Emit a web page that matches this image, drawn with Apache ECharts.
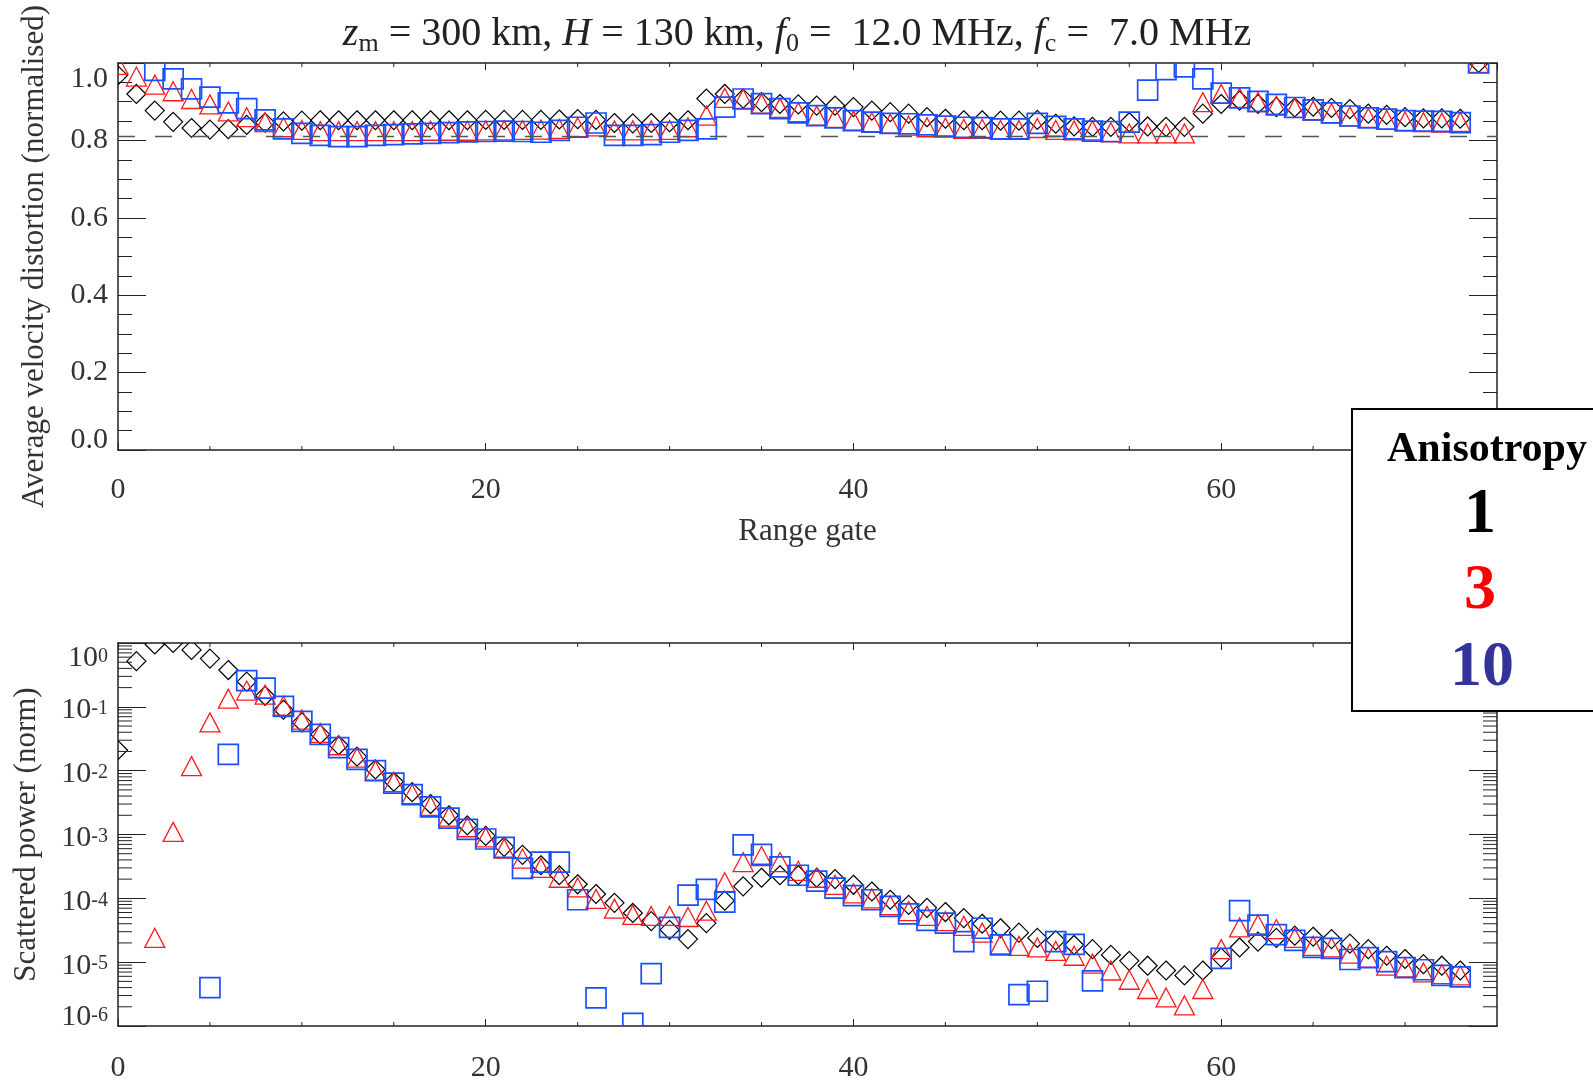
<!DOCTYPE html>
<html>
<head>
<meta charset="utf-8">
<script src="https://cdn.jsdelivr.net/npm/echarts@6/dist/echarts.min.js"></script>
<style>
html, body { margin: 0; padding: 0; background: #fff; }
#main { width: 1593px; height: 1083px; }
</style>
</head>
<body>
<div id="main"></div>
<script>
var myChart = echarts.init(document.getElementById('main'));

// range gates
var gates = [0, 1, 2, 3, 4, 5, 6, 7, 8, 9, 10, 11, 12, 13, 14, 15, 16, 17, 18, 19,
  20, 21, 22, 23, 24, 25, 26, 27, 28, 29, 30, 31, 32, 33, 34, 35, 36, 37, 38, 39,
  40, 41, 42, 43, 44, 45, 46, 47, 48, 49, 50, 51, 52, 53, 54, 55, 56, 57, 58, 59,
  60, 61, 62, 63, 64, 65, 66, 67, 68, 69, 70, 71, 72, 73, 74];

// average velocity distortion (normalised), anisotropy 1 / 3 / 10
var velAniso1 = [0.968, 0.920, 0.877, 0.848, 0.832, 0.828, 0.829, 0.840, 0.846, 0.849,
  0.851, 0.852, 0.852, 0.852, 0.852, 0.852, 0.852, 0.852, 0.852, 0.852,
  0.853, 0.853, 0.853, 0.853, 0.854, 0.855, 0.853, 0.845, 0.844, 0.845,
  0.847, 0.852, 0.908, 0.920, 0.908, 0.899, 0.894, 0.893, 0.890, 0.890,
  0.886, 0.877, 0.873, 0.869, 0.860, 0.856, 0.852, 0.852, 0.851, 0.851,
  0.853, 0.843, 0.836, 0.835, 0.835, 0.847, 0.836, 0.835, 0.835, 0.869,
  0.894, 0.903, 0.894, 0.886, 0.885, 0.887, 0.884, 0.881, 0.869, 0.866,
  0.860, 0.857, 0.857, 0.856, 1.0];
var velAniso3 = [0.995, 0.965, 0.944, 0.927, 0.907, 0.893, 0.875, 0.860, 0.847, 0.834,
  0.827, 0.824, 0.824, 0.824, 0.824, 0.824, 0.824, 0.825, 0.825, 0.825,
  0.826, 0.826, 0.827, 0.828, 0.830, 0.834, 0.836, 0.826, 0.826, 0.826,
  0.827, 0.834, 0.864, 0.910, 0.907, 0.895, 0.884, 0.873, 0.864, 0.858,
  0.851, 0.847, 0.843, 0.838, 0.834, 0.833, 0.830, 0.830, 0.827, 0.827,
  0.832, 0.827, 0.826, 0.826, 0.821, 0.818, 0.818, 0.818, 0.818, 0.899,
  0.920, 0.910, 0.899, 0.890, 0.884, 0.877, 0.870, 0.862, 0.858, 0.853,
  0.849, 0.847, 0.846, 0.848, 1.0];
var velAniso10 = [null, null, 0.981, 0.959, 0.933, 0.912, 0.897, 0.882, 0.853, 0.830,
  0.818, 0.813, 0.810, 0.810, 0.813, 0.815, 0.817, 0.818, 0.820, 0.822,
  0.823, 0.824, 0.823, 0.821, 0.826, 0.834, 0.845, 0.813, 0.813, 0.815,
  0.821, 0.826, 0.830, 0.886, 0.907, 0.895, 0.882, 0.871, 0.864, 0.858,
  0.851, 0.847, 0.844, 0.843, 0.840, 0.837, 0.834, 0.833, 0.830, 0.830,
  0.844, 0.836, 0.830, 0.824, 0.823, 0.847, 0.930, 0.983, 0.990, 0.959,
  0.922, 0.910, 0.901, 0.893, 0.885, 0.879, 0.871, 0.863, 0.858, 0.855,
  0.851, 0.850, 0.849, 0.846, 1.0];
var velRefLine = 0.81;

// scattered power (norm), gates 0..73
var powAniso1 = [0.021, 0.52, 0.95, 1.0, 0.78, 0.57, 0.377, 0.248, 0.149, 0.090,
  0.057, 0.037, 0.025, 0.0166, 0.0105, 0.0067, 0.0046, 0.0030, 0.0020, 0.00139,
  0.00095, 0.00064, 0.00048, 0.00033, 0.00023, 0.000166, 0.000117, 8.5e-5, 5.9e-5, 4.4e-5,
  3.2e-5, 2.3e-5, 4.1e-5, 9.2e-5, 1.54e-4, 2.1e-4, 2.3e-4, 2.3e-4, 2.1e-4, 2.0e-4,
  1.63e-4, 1.28e-4, 9.5e-5, 7.9e-5, 7.1e-5, 6.1e-5, 4.9e-5, 4.0e-5, 3.4e-5, 2.9e-5,
  2.4e-5, 2.2e-5, 1.86e-5, 1.6e-5, 1.3e-5, 1.05e-5, 8.8e-6, 7.4e-6, 6.2e-6, 7.4e-6,
  1.18e-5, 1.7e-5, 2.1e-5, 2.4e-5, 2.6e-5, 2.5e-5, 2.3e-5, 1.95e-5, 1.6e-5, 1.26e-5,
  1.12e-5, 9.3e-6, 8.8e-6, 7.4e-6];
var powAniso3 = [null, null, 2.4e-5, 1.1e-3, 0.0118, 0.057, 0.134, 0.18, 0.155, 0.104,
  0.063, 0.039, 0.025, 0.016, 0.010, 0.0066, 0.0043, 0.0028, 0.0019, 0.0013,
  9.0e-4, 6.0e-4, 4.2e-4, 3.0e-4, 2.1e-4, 1.48e-4, 9.8e-5, 6.9e-5, 5.5e-5, 5.3e-5,
  5.3e-5, 5.1e-5, 6.4e-5, 1.79e-4, 3.7e-4, 4.6e-4, 3.7e-4, 2.7e-4, 2.1e-4, 1.63e-4,
  1.2e-4, 1.0e-4, 7.8e-5, 6.3e-5, 5.3e-5, 4.4e-5, 3.7e-5, 2.9e-5, 1.9e-5, 1.8e-5,
  1.7e-5, 1.5e-5, 1.26e-5, 9.5e-6, 7.4e-6, 5.3e-6, 3.8e-6, 2.8e-6, 2.1e-6, 3.8e-6,
  1.6e-5, 3.5e-5, 3.9e-5, 3.3e-5, 2.4e-5, 1.8e-5, 1.7e-5, 1.36e-5, 1.18e-5, 8.8e-6,
  8.3e-6, 6.9e-6, 6.5e-6, 6.2e-6];
var powAniso10 = [null, null, null, null, null, 4.0e-6, 0.018, 0.257, 0.196, 0.102,
  0.059, 0.037, 0.023, 0.015, 0.010, 0.0064, 0.0042, 0.0027, 0.0018, 0.0012,
  8.5e-4, 6.3e-4, 2.95e-4, 3.7e-4, 3.7e-4, 9.5e-5, 2.75e-6, null, 1.1e-6, 6.6e-6,
  3.5e-5, 1.12e-4, 1.38e-4, 8.7e-5, 6.9e-4, 4.9e-4, 3.1e-4, 2.3e-4, 1.86e-4, 1.45e-4,
  1.1e-4, 9.5e-5, 7.5e-5, 5.7e-5, 4.5e-5, 4.1e-5, 2.1e-5, 3.4e-5, 1.86e-5, 3.1e-6,
  3.5e-6, 2.1e-5, 1.9e-5, 5.1e-6, null, null, null, null, null, null,
  1.15e-5, 6.4e-5, 3.8e-5, 2.7e-5, 2.2e-5, 1.7e-5, 1.65e-5, 1.1e-5, 1.18e-5, 1.02e-5,
  8.2e-6, 7.6e-6, 6.2e-6, 5.9e-6];

var legendTitle = 'Anisotropy';
var legendLabels = ['1', '3', '10'];

var FONT = 'Liberation Serif';
var INK = '#222';
var TXT = '#333';
var COL_A1 = '#000000';
var COL_A3 = '#ff1a1a';
var COL_A10 = '#1a4fff';

// x minor ticks every 5 gates (majors every 20 come from the axis)
var xMinorTicks = [];
for (var t = 5; t < 75; t += 5) {
  if (t % 20 !== 0) xMinorTicks.push(t);
}
// log minor ticks 2..9 x 10^n
var logMinorTicks = [];
for (var e = -6; e < 0; e++) {
  for (var k = 2; k <= 9; k++) logMinorTicks.push(k * Math.pow(10, e));
}

function pairs(vals) {
  return vals.map(function (v, i) { return [gates[i], v == null ? '-' : v]; });
}

// marker outline shapes, clipped to the plot frame like the original
function markerShape(kind, x, y, color, width) {
  var style = { fill: 'none', stroke: color, lineWidth: width };
  if (kind === 'diamond') {
    return { type: 'polygon', shape: { points: [[x, y - 9.5], [x + 9.5, y], [x, y + 9.5], [x - 9.5, y]] }, style: style };
  }
  if (kind === 'triangle') {
    return { type: 'polygon', shape: { points: [[x, y - 9.5], [x + 10, y + 9.5], [x - 10, y + 9.5]] }, style: style };
  }
  return { type: 'rect', shape: { x: x - 10, y: y - 10, width: 20, height: 20 }, style: style };
}

function markerSeries(name, vals, kind, color, width, xi, yi) {
  return {
    name: name,
    type: 'custom',
    xAxisIndex: xi,
    yAxisIndex: yi,
    clip: true,
    silent: true,
    data: pairs(vals),
    renderItem: function (params, api) {
      var v = api.value(1);
      if (isNaN(v)) return null;
      var p = api.coord([api.value(0), v]);
      return markerShape(kind, p[0], p[1], color, width);
    }
  };
}

function xTickSeries(xi, yi, yLo, yHi) {
  return {
    type: 'custom',
    xAxisIndex: xi,
    yAxisIndex: yi,
    silent: true,
    clip: false,
    z: 5,
    data: xMinorTicks.map(function (x) { return [x, yLo]; }),
    renderItem: function (params, api) {
      var x = api.value(0);
      var b = api.coord([x, yLo]);
      var tp = api.coord([x, yHi]);
      return {
        type: 'group',
        children: [
          { type: 'line', shape: { x1: b[0], y1: b[1], x2: b[0], y2: b[1] - 4 }, style: { stroke: INK, lineWidth: 1 } },
          { type: 'line', shape: { x1: tp[0], y1: tp[1], x2: tp[0], y2: tp[1] + 4 }, style: { stroke: INK, lineWidth: 1 } }
        ]
      };
    }
  };
}

var tickFont = { fontFamily: FONT, fontSize: 30, color: TXT };

function xAxisPair(grid, name, margin) {
  var common = {
    gridIndex: grid, type: 'value', min: 0, max: 75, interval: 20,
    splitLine: { show: false },
    axisLine: { show: true, onZero: false, lineStyle: { color: INK, width: 1.5 } },
    axisTick: { show: true, inside: true, length: 7, lineStyle: { color: INK, width: 1 } }
  };
  var bottom = Object.assign({}, common, {
    position: 'bottom',
    axisLabel: Object.assign({ show: true, margin: margin, showMaxLabel: false }, tickFont)
  });
  if (name) {
    bottom.name = name;
    bottom.nameLocation = 'middle';
    bottom.nameGap = 66;
    bottom.nameTextStyle = { fontFamily: FONT, fontSize: 31, color: TXT };
  }
  var top = Object.assign({}, common, { position: 'top', axisLabel: { show: false } });
  return [bottom, top];
}

var velLabel = Object.assign({
  margin: 10,
  padding: [6, 0, 0, 0],
  lineHeight: 20,
  verticalAlignMinLabel: 'bottom',
  verticalAlignMaxLabel: 'top',
  formatter: function (v) { return v.toFixed(1); }
}, tickFont);

var powLabel = {
  margin: 10,
  padding: [4, 0, 0, 0],
  verticalAlignMinLabel: 'bottom',
  verticalAlignMaxLabel: 'top',
  formatter: function (v) {
    var ex = Math.round(Math.log10(v));
    return '{b|10}{s|' + ex + '}';
  },
  rich: {
    b: { fontFamily: FONT, fontSize: 30, color: TXT, lineHeight: 20, padding: [3, 0, 0, 0] },
    s: { fontFamily: FONT, fontSize: 20, color: TXT, lineHeight: 6, verticalAlign: 'top' }
  }
};

var yCommon = {
  splitLine: { show: false },
  axisLine: { show: true, onZero: false, lineStyle: { color: INK, width: 1.5 } },
  axisTick: { show: true, inside: true, length: 28, lineStyle: { color: INK, width: 1 } }
};

var option = {
  backgroundColor: '#ffffff',
  animation: false,
  grid: [
    { left: 118, top: 63, width: 1379, height: 387 },
    { left: 118, top: 643, width: 1379, height: 386 }
  ],
  xAxis: xAxisPair(0, 'Range gate', 25).concat(xAxisPair(1, null, 27)),
  yAxis: [
    Object.assign({}, yCommon, {
      gridIndex: 0, type: 'value', position: 'left', min: 0, max: 1, interval: 0.2,
      minorTick: { show: true, splitNumber: 4, length: 14, lineStyle: { color: INK, width: 1 } },
      axisLabel: velLabel,
      name: 'Average velocity distortion (normalised)', nameLocation: 'middle', nameGap: 68,
      nameTextStyle: { fontFamily: FONT, fontSize: 31, color: TXT }
    }),
    Object.assign({}, yCommon, {
      gridIndex: 0, type: 'value', position: 'right', min: 0, max: 1, interval: 0.2,
      minorTick: { show: true, splitNumber: 4, length: 14, lineStyle: { color: INK, width: 1 } },
      axisLabel: { show: false }
    }),
    Object.assign({}, yCommon, {
      gridIndex: 1, type: 'log', logBase: 10, position: 'left', min: 1e-6, max: 1, splitNumber: 6,
      axisLabel: powLabel,
      name: 'Scattered power (norm)', nameLocation: 'middle', nameGap: 76,
      nameTextStyle: { fontFamily: FONT, fontSize: 31, color: TXT }
    }),
    Object.assign({}, yCommon, {
      gridIndex: 1, type: 'log', logBase: 10, position: 'right', min: 1e-6, max: 1, splitNumber: 6,
      axisLabel: { show: false }
    })
  ],
  graphic: [
    {
      type: 'text', x: 797, y: 34, z: 50,
      style: {
        text: '{i|z}{sub|m}{n| = 300 km, }{i|H}{n| = 130 km, }{i|f}{sub|0}{n| =  12.0 MHz, }{i|f}{sub|c}{n| =  7.0 MHz}',
        align: 'center', verticalAlign: 'middle',
        rich: {
          n: { fontFamily: FONT, fontSize: 40, fill: '#222', lineHeight: 46 },
          i: { fontFamily: FONT, fontSize: 40, fontStyle: 'italic', fill: '#222', lineHeight: 46 },
          sub: { fontFamily: FONT, fontSize: 26, fill: '#222', lineHeight: 24, verticalAlign: 'bottom' }
        }
      }
    },
    {
      type: 'rect', z: 100,
      shape: { x: 1352, y: 409, width: 300, height: 302 },
      style: { fill: '#ffffff', stroke: '#000000', lineWidth: 2 }
    },
    {
      type: 'text', x: 1487, y: 450, z: 101,
      style: { text: legendTitle, fontFamily: FONT, fontWeight: 'bold', fontSize: 42, fill: '#000', align: 'center', verticalAlign: 'middle' }
    },
    {
      type: 'text', x: 1480, y: 515, z: 101,
      style: { text: legendLabels[0], fontFamily: FONT, fontWeight: 'bold', fontSize: 64, fill: COL_A1, align: 'center', verticalAlign: 'middle' }
    },
    {
      type: 'text', x: 1480, y: 591, z: 101,
      style: { text: legendLabels[1], fontFamily: FONT, fontWeight: 'bold', fontSize: 64, fill: '#ff0000', align: 'center', verticalAlign: 'middle' }
    },
    {
      type: 'text', x: 1482, y: 668, z: 101,
      style: { text: legendLabels[2], fontFamily: FONT, fontWeight: 'bold', fontSize: 64, fill: '#333399', align: 'center', verticalAlign: 'middle' }
    }
  ],
  series: [
    {
      name: 'reference',
      type: 'line',
      xAxisIndex: 0,
      yAxisIndex: 0,
      silent: true,
      symbol: 'none',
      data: [[0, velRefLine], [75, velRefLine]],
      lineStyle: { color: '#555', width: 1.5, type: [17, 20] }
    },
    markerSeries('A1 vel', velAniso1, 'diamond', COL_A1, 1.2, 0, 0),
    markerSeries('A3 vel', velAniso3, 'triangle', COL_A3, 1.3, 0, 0),
    markerSeries('A10 vel', velAniso10, 'rect', COL_A10, 1.7, 0, 0),
    markerSeries('A1 pow', powAniso1, 'diamond', COL_A1, 1.2, 2, 2),
    markerSeries('A3 pow', powAniso3, 'triangle', COL_A3, 1.3, 2, 2),
    markerSeries('A10 pow', powAniso10, 'rect', COL_A10, 1.7, 2, 2),
    xTickSeries(0, 0, 0, 1),
    xTickSeries(2, 2, 1e-6, 1),
    {
      type: 'custom',
      xAxisIndex: 2,
      yAxisIndex: 2,
      silent: true,
      clip: false,
      z: 5,
      data: logMinorTicks.map(function (v) { return [0, v]; }),
      renderItem: function (params, api) {
        var v = api.value(1);
        var l = api.coord([0, v]);
        var r = api.coord([75, v]);
        return {
          type: 'group',
          children: [
            { type: 'line', shape: { x1: l[0], y1: l[1], x2: l[0] + 14, y2: l[1] }, style: { stroke: INK, lineWidth: 1 } },
            { type: 'line', shape: { x1: r[0] - 14, y1: r[1], x2: r[0], y2: r[1] }, style: { stroke: INK, lineWidth: 1 } }
          ]
        };
      }
    }
  ]
};

myChart.setOption(option);
</script>
</body>
</html>
